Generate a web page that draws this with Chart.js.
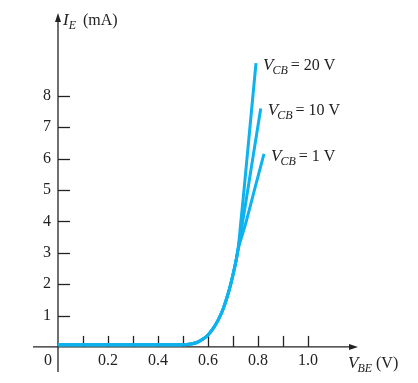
<!DOCTYPE html>
<html>
<head>
<meta charset="utf-8">
<script src="https://cdn.jsdelivr.net/npm/chart.js@4.4.1/dist/chart.umd.min.js"></script>
<style>
html,body{margin:0;padding:0;background:#fff;}
#wrap{width:418px;height:383px;position:relative;}
</style>
</head>
<body>
<div id="wrap"><canvas id="c" width="418" height="383"></canvas></div>
<script>
// Shared part of the characteristic (all three curves coincide here)
const vbeCommon = [0, 0.1, 0.2, 0.3, 0.4, 0.5, 0.53, 0.555, 0.58, 0.6, 0.62, 0.641, 0.66, 0.681, 0.70, 0.712, 0.72];
const ieCommon  = [0.07, 0.07, 0.07, 0.07, 0.07, 0.07, 0.09, 0.14, 0.25, 0.38, 0.58, 0.86, 1.2, 1.71, 2.3, 2.74, 3.1];
// Individual upper parts
const vbe20 = [0.731, 0.744, 0.763, 0.792];
const ie20  = [3.95, 5.0, 6.6, 9.04];
const vbe10 = [0.74, 0.763, 0.787, 0.811];
const ie10  = [4.05, 5.2, 6.4, 7.6];
const vbe1  = [0.753, 0.789, 0.824];
const ie1   = [4.0, 5.1, 6.15];
const seriesLabels = ["20 V", "10 V", "1 V"];
// Tick labels
const xTickLabels = [0.2, 0.4, 0.6, 0.8, 1.0];
const xTickMarks = [0.1, 0.2, 0.3, 0.4, 0.5, 0.6, 0.7, 0.8, 0.9, 1.0];
const yTickLabels = [1, 2, 3, 4, 5, 6, 7, 8];

function build(vs, is) {
  const pts = [];
  vbeCommon.forEach((v, i) => pts.push({x: v, y: ieCommon[i]}));
  vs.forEach((v, i) => pts.push({x: v, y: is[i]}));
  return pts;
}

const COLOR = '#0db2ee';
const INK = '#222';
const SERIF = '"Liberation Serif", "DejaVu Serif", serif';

const axesPlugin = {
  id: 'axesPlugin',
  beforeDatasetsDraw(chart) {
    const {ctx, scales: {x, y}} = chart;
    const x0 = x.getPixelForValue(0), y0 = y.getPixelForValue(0);
    ctx.save();
    ctx.strokeStyle = INK; ctx.fillStyle = INK; ctx.lineWidth = 1.3;
    // y axis
    const yTop = y.getPixelForValue(y.max);
    const yBot = y.getPixelForValue(y.min);
    ctx.beginPath(); ctx.moveTo(x0, yBot); ctx.lineTo(x0, yTop + 6); ctx.stroke();
    ctx.beginPath(); ctx.moveTo(x0, yTop); ctx.lineTo(x0 - 3, yTop + 9); ctx.lineTo(x0 + 3, yTop + 9); ctx.closePath(); ctx.fill();
    // x axis
    const xL = x.getPixelForValue(x.min);
    const xR = x.getPixelForValue(x.max);
    ctx.beginPath(); ctx.moveTo(xL, y0); ctx.lineTo(xR - 6, y0); ctx.stroke();
    ctx.beginPath(); ctx.moveTo(xR, y0); ctx.lineTo(xR - 9, y0 - 3); ctx.lineTo(xR - 9, y0 + 3); ctx.closePath(); ctx.fill();
    // y ticks
    yTickLabels.forEach(v => {
      const py = Math.round(y.getPixelForValue(v)) + 0.5;
      ctx.beginPath(); ctx.moveTo(x0, py); ctx.lineTo(x0 + 12, py); ctx.stroke();
    });
    // x ticks
    xTickMarks.forEach(v => {
      const px = Math.round(x.getPixelForValue(v)) + 0.5;
      ctx.beginPath(); ctx.moveTo(px, y0); ctx.lineTo(px, y0 - 11); ctx.stroke();
    });
    // tick labels
    ctx.font = '16px ' + SERIF;
    ctx.textBaseline = 'middle';
    ctx.textAlign = 'right';
    yTickLabels.forEach(v => ctx.fillText(String(v), x0 - 7, y.getPixelForValue(v)));
    ctx.textAlign = 'center';
    ctx.fillText('0', x0 - 10, y0 + 14);
    xTickLabels.forEach(v => ctx.fillText(v.toFixed(1), x.getPixelForValue(v), y0 + 14));
    // axis titles
    ctx.textBaseline = 'alphabetic';
    ctx.textAlign = 'left';
    let tx = x0 + 5, ty = yTop + 12;
    ctx.font = 'italic 17px ' + SERIF; ctx.fillText('I', tx, ty); tx += ctx.measureText('I').width;
    ctx.font = 'italic 12px ' + SERIF; ctx.fillText('E', tx, ty + 4); tx += ctx.measureText('E').width + 7;
    ctx.font = '16px ' + SERIF; ctx.fillText('(mA)', tx, ty);
    tx = xR - 10; ty = y0 + 21;
    ctx.font = 'italic 17px ' + SERIF; ctx.fillText('V', tx, ty); tx += ctx.measureText('V').width - 1;
    ctx.font = 'italic 12px ' + SERIF; ctx.fillText('BE', tx, ty + 4); tx += ctx.measureText('BE').width + 4;
    ctx.font = '16px ' + SERIF; ctx.fillText('(V)', tx, ty);
    ctx.restore();
  },
  afterDatasetsDraw(chart) {
    const {ctx} = chart;
    ctx.save();
    ctx.fillStyle = INK; ctx.textBaseline = 'alphabetic'; ctx.textAlign = 'left';
    chart.data.datasets.forEach((ds, i) => {
      const meta = chart.getDatasetMeta(i);
      const last = meta.data[meta.data.length - 1];
      let tx = last.x + 7, ty = last.y + 7;
      ctx.font = 'italic 17px ' + SERIF; ctx.fillText('V', tx, ty); tx += ctx.measureText('V').width - 1;
      ctx.font = 'italic 12px ' + SERIF; ctx.fillText('CB', tx, ty + 4); tx += ctx.measureText('CB').width + 3;
      ctx.font = '16px ' + SERIF; ctx.fillText('= ' + seriesLabels[i], tx, ty);
    });
    ctx.restore();
  }
};

new Chart(document.getElementById('c'), {
  type: 'scatter',
  data: {
    datasets: [
      {data: build(vbe20, ie20)},
      {data: build(vbe10, ie10)},
      {data: build(vbe1, ie1)}
    ].map(d => Object.assign(d, {
      showLine: true, borderColor: COLOR, backgroundColor: COLOR,
      borderWidth: 3, pointRadius: 0, tension: 0.35, borderCapStyle: 'butt'
    }))
  },
  options: {
    responsive: false, animation: false, devicePixelRatio: 1,
    layout: {padding: {left: 33, right: 60, top: 13, bottom: 11}},
    plugins: {legend: {display: false}, tooltip: {enabled: false}},
    scales: {
      x: {type: 'linear', min: -0.1, max: 1.2, display: false},
      y: {type: 'linear', min: -0.8, max: 10.64, display: false}
    }
  },
  plugins: [axesPlugin]
});
</script>
</body>
</html>
